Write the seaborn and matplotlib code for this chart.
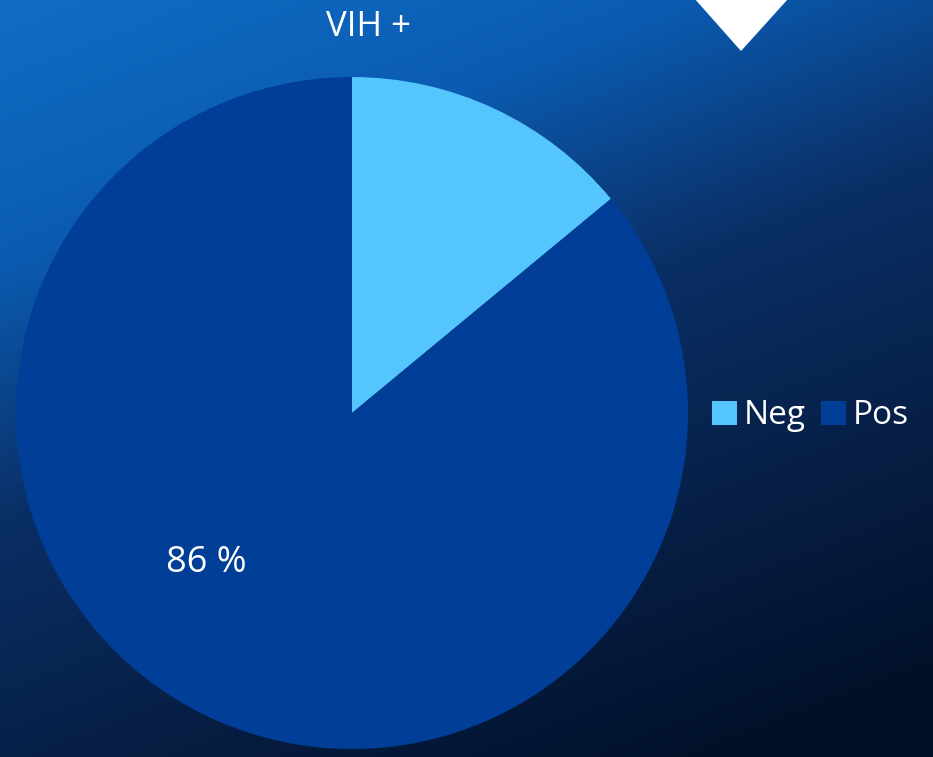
import numpy as np
import matplotlib
matplotlib.use("Agg")
import matplotlib.pyplot as plt
from matplotlib.colors import LinearSegmentedColormap
from matplotlib.patches import Patch, Polygon
import seaborn as sns

# datos
labels = ["Neg", "Pos"]
values = [14, 86]
colors = ["#55c6fd", "#003e98"]
title = "VIH +"

sns.set_theme(style="white")
plt.rcParams["font.family"] = ["Open Sans", "DejaVu Sans"]

W, H = 933, 757
fig = plt.figure(figsize=(W / 100, H / 100), dpi=100)

# fondo degradado
bg = fig.add_axes([0, 0, 1, 1])
gx, gy = np.meshgrid(np.linspace(0, 1, 300), np.linspace(0, 1, 300))
t = np.clip(0.8 * gy + 0.38 * gx, 0, 1.2)
cmap = LinearSegmentedColormap.from_list(
    "bg", [(0, "#116cc4"), (0.25, "#0a5cb2"), (0.5, "#0a2f66"),
           (0.75, "#071f46"), (1.0, "#011028")])
bg.imshow(t, cmap=cmap, vmin=0, vmax=1.1, aspect="auto", extent=[0, 1, 1, 0])
bg.set_xlim(0, 1)
bg.set_ylim(1, 0)
bg.axis("off")

# rombo blanco arriba a la derecha
bg.add_patch(Polygon([[690 / W, -0.01], [741 / W, 50 / H], [793 / W, -0.01]],
                     closed=True, color="white"))

# pastel
cx, cy, r = 352, 413, 336
ax = fig.add_axes([(cx - r) / W, (H - cy - r) / H, 2 * r / W, 2 * r / H])
wedges, _ = ax.pie(values, colors=colors, startangle=90, counterclock=False,
                   radius=1, wedgeprops=dict(linewidth=0))
ax.set_xlim(-1, 1)
ax.set_ylim(-1, 1)
ax.set_aspect("equal")
ax.axis("off")

fig.text(369 / W, 1 - 27 / H, title, color="white", fontsize=25,
         ha="center", va="center")
fig.text(206 / W, 1 - 563 / H, f"{values[1]} %", color="white", fontsize=26,
         ha="center", va="center")

handles = [Patch(facecolor=c, edgecolor="none") for c in colors]
fig.legend(handles, labels, loc="center left", bbox_to_anchor=(712 / W, 1 - 416 / H),
           ncol=2, frameon=False, fontsize=24, labelcolor="white",
           handlelength=0.75, handleheight=0.75, handletextpad=0.2,
           columnspacing=0.45, borderpad=0, borderaxespad=0)

fig.savefig("out.png", dpi=100)
